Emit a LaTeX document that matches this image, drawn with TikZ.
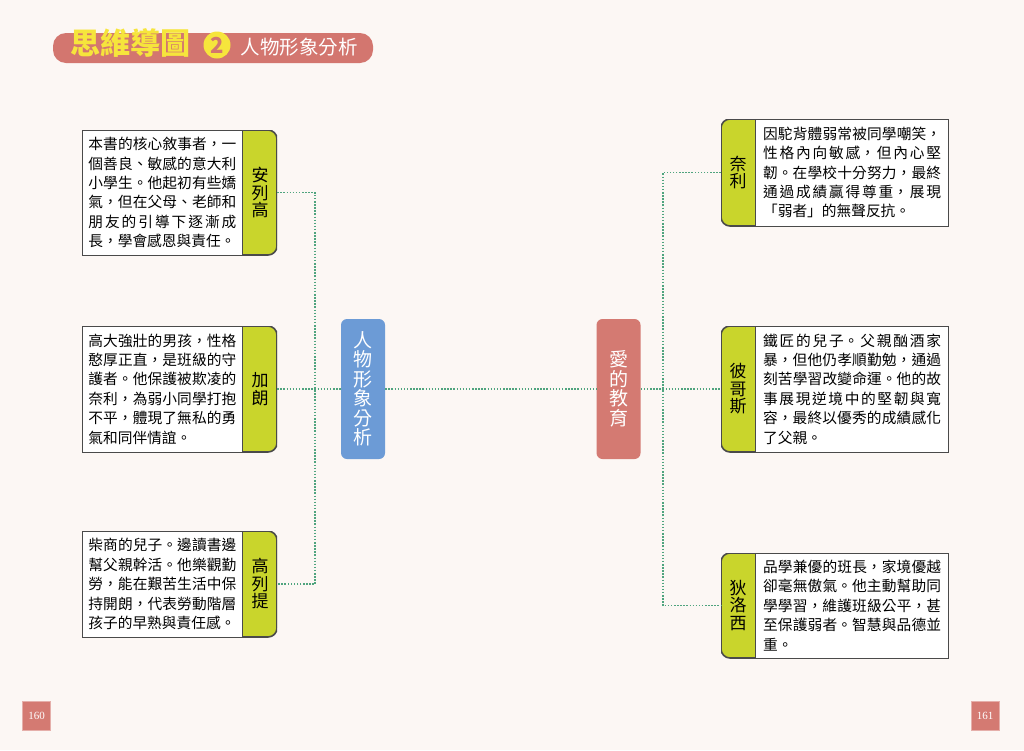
\documentclass[tikz,border=0pt]{standalone}
\usepackage{fontspec}
\setmainfont{Noto Sans CJK TC}
\newfontfamily\pagefont{Liberation Serif}
\usetikzlibrary{positioning}
\XeTeXlinebreaklocale "zh"
\XeTeXlinebreakskip=0pt plus 1pt

\definecolor{paper}{HTML}{FCF7F4}
\definecolor{pillred}{HTML}{D3766F}
\definecolor{titleyellow}{HTML}{F6E53C}
\definecolor{tabgreen}{HTML}{C9D52C}
\definecolor{edgegray}{HTML}{4A4A4A}
\definecolor{hubblue}{HTML}{6C9BD6}
\definecolor{hubred}{HTML}{D47A72}
\definecolor{dotgreen}{HTML}{4FA47E}

\tikzset{
  link/.style={draw=dotgreen, line width=1.5pt, dash pattern=on 1.5pt off 1.6pt},
  ltab/.style={minimum width=34pt, inner sep=0pt, align=center,
    font=\fontsize{17}{17.5}\selectfont,
    path picture={\draw[fill=tabgreen, draw=edgegray, line width=1.6pt, rounded corners=9pt]
      ([xshift=-12pt]path picture bounding box.south west) rectangle (path picture bounding box.north east);}},
  rtab/.style={minimum width=34pt, inner sep=0pt, align=center,
    font=\fontsize{17}{17.5}\selectfont,
    path picture={\draw[fill=tabgreen, draw=edgegray, line width=1.6pt, rounded corners=9pt]
      (path picture bounding box.south west) rectangle ([xshift=12pt]path picture bounding box.north east);}},
  lbox/.style={draw=edgegray, line width=0.8pt, fill=white, text width=148pt,
    inner xsep=6pt, inner ysep=0pt, align=justify, font=\fontsize{14.7}{19.4}\selectfont},
  rbox/.style={lbox, text width=178pt, inner xsep=7.5pt},
  hub/.style={rounded corners=6pt, minimum width=44pt, minimum height=140pt, inner sep=0pt,
    text=white, align=center, font=\fontsize{19}{19.5}\selectfont},
  pagebox/.style={fill=hubred, draw=hubred!60!white, line width=0.6pt, minimum width=28pt,
    minimum height=29pt, inner sep=0pt, text=white, font=\pagefont\fontsize{11}{11}\selectfont}
}

\begin{document}
\begin{tikzpicture}[x=1pt, y=-1pt]
  \fill[paper] (0,0) rectangle (1024,750);
  \useasboundingbox (0,0) rectangle (1024,750);

  % heading
  \node[fill=pillred, rounded corners=13pt, minimum width=320pt, minimum height=30pt] (banner) at (213,48) {};
  \node[text=titleyellow, font=\fontsize{30}{30}\selectfont\bfseries] (maptitle) at (130,43) {思維導圖};
  \node[circle, fill=titleyellow, minimum size=27pt, inner sep=0pt, text=pillred,
    font=\fontsize{22}{22}\selectfont\bfseries] (mapno) at (217,45) {2};
  \node[text=white, font=\fontsize{19.5}{20}\selectfont] (subtitle) at (299,47) {人物形象分析};

  % left side
  \node[ltab, minimum height=125pt] (enricotab) at (260,192.5) {安\\列\\高};
  \node[lbox, minimum height=125pt, left=0pt of enricotab] (enricobox) {本書的核心敘事者，一\linebreak 個善良、敏感的意大利\linebreak 小學生。他起初有些嬌\linebreak 氣，但在父母、老師和\linebreak 朋友的引導下逐漸成\linebreak 長，學會感恩與責任。};

  \node[ltab, minimum height=126pt] (garronetab) at (260,389) {加\\朗};
  \node[lbox, minimum height=126pt, left=0pt of garronetab] (garronebox) {高大強壯的男孩，性格\linebreak 憨厚正直，是班級的守\linebreak 護者。他保護被欺凌的\linebreak 奈利，為弱小同學打抱\linebreak 不平，體現了無私的勇\linebreak 氣和同伴情誼。};

  \node[ltab, minimum height=106pt] (corettitab) at (260,584) {高\\列\\提};
  \node[lbox, minimum height=106pt, left=0pt of corettitab] (corettibox) {柴商的兒子。邊讀書邊\linebreak 幫父親幹活。他樂觀勤\linebreak 勞，能在艱苦生活中保\linebreak 持開朗，代表勞動階層\linebreak 孩子的早熟與責任感。};

  % centre
  \node[hub, fill=hubblue] (figures) at (363,389) {人\\物\\形\\象\\分\\析};
  \node[hub, fill=hubred] (book) at (618.5,389) {愛\\的\\教\\育};

  % right side
  \node[rtab, minimum height=107pt] (nellitab) at (738,172.5) {奈\\利};
  \node[rbox, minimum height=107pt, right=0pt of nellitab] (nellibox) {因駝背體弱常被同學嘲笑，\linebreak 性格內向敏感，但內心堅\linebreak 韌。在學校十分努力，最終\linebreak 通過成績贏得尊重，展現\linebreak 「弱者」的無聲反抗。};

  \node[rtab, minimum height=126pt] (precossitab) at (738,389) {彼\\哥\\斯};
  \node[rbox, minimum height=126pt, right=0pt of precossitab] (precossibox) {鐵匠的兒子。父親酗酒家\linebreak 暴，但他仍孝順勤勉，通過\linebreak 刻苦學習改變命運。他的故\linebreak 事展現逆境中的堅韌與寬\linebreak 容，最終以優秀的成績感化\linebreak 了父親。};

  \node[rtab, minimum height=105pt] (derossitab) at (738,605.5) {狄\\洛\\西};
  \node[rbox, minimum height=105pt, right=0pt of derossitab] (derossibox) {品學兼優的班長，家境優越\linebreak 卻毫無傲氣。他主動幫助同\linebreak 學學習，維護班級公平，甚\linebreak 至保護弱者。智慧與品德並\linebreak 重。};

  % connectors
  \draw[link] (enricotab.east) -- ++(38,0) |- (corettitab.east);
  \draw[link] (garronetab.east) -- (figures.west);
  \draw[link] (figures.east) -- (book.west);
  \draw[link] (book.east) -- (precossitab.west);
  \draw[link] (nellitab.west) -- ++(-58,0) |- (derossitab.west);

  % page numbers
  \node[pagebox] (leftpage) at (36.5,716) {160};
  \node[pagebox] (rightpage) at (985,716) {161};
\end{tikzpicture}
\end{document}
